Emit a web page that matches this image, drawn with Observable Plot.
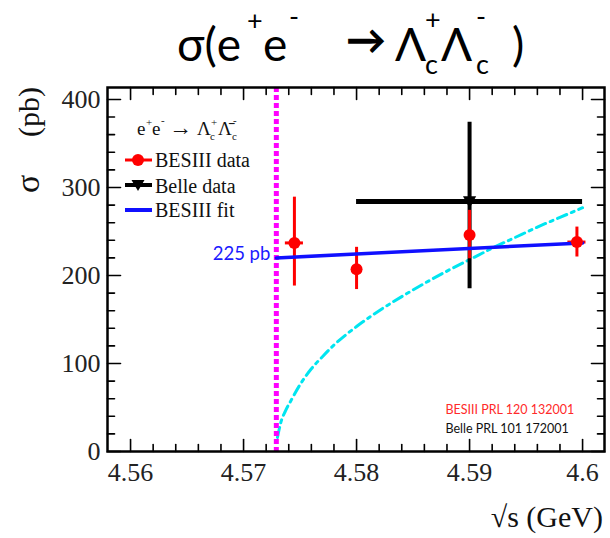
<!DOCTYPE html>
<html><head><meta charset="utf-8">
<script src="https://cdn.jsdelivr.net/npm/d3@7"></script>
<script src="https://cdn.jsdelivr.net/npm/@observablehq/plot@0.6"></script>
<style>
html,body{margin:0;padding:0;background:#fff}
body{width:610px;height:538px;position:relative;overflow:hidden}
.t{position:absolute;line-height:1;white-space:nowrap;color:#000}
.ti{font-family:Lato,'Open Sans',sans-serif;font-size:46px}
.ts{font-family:Lato,'Open Sans',sans-serif;font-size:27px}
#chart{position:absolute;left:0;top:80px}
.serif{font-family:'Liberation Serif','Times New Roman',serif;color:#111;white-space:nowrap;line-height:1;position:absolute}
#ylab{left:28px;top:140px;font-size:30px;transform:translate(-50%,-50%) rotate(-90deg);word-spacing:30px}
#xlab{right:7px;top:502px;font-size:30px}
.leg{font-size:20px}
.lm{font-size:19px}
.lsm{font-size:11px}
#legsw{position:absolute;left:118px;top:145px}
</style>
</head><body>
<div class="t ti" style="left:177px;top:21px">σ(e</div>
<div class="t ts" style="left:247px;top:6px">+</div>
<div class="t ti" style="left:263px;top:21px">e</div>
<div class="t ts" style="left:289px;top:2px">-</div>
<div class="t ti" style="left:346px;top:19px;font-weight:900;font-size:40px">→</div>
<div class="t ti" style="left:395px;top:21px">Λ</div>
<div class="t ts" style="left:425px;top:5px">+</div>
<div class="t ts" style="left:425px;top:50px">c</div>
<div class="t ti" style="left:441px;top:21px">Λ</div>
<div class="t ts" style="left:476px;top:2px">-</div>
<div class="t ts" style="left:476px;top:50px">c</div>
<div class="t ti" style="left:512px;top:21px">)</div>
<div id="chart"></div>
<div id="ylab" class="serif"><span style="font-size:34px">σ</span> (pb)</div>
<div id="xlab" class="serif">√s (GeV)</div>
<div class="serif lm" style="left:137px;top:119px">e</div>
<div class="serif lsm" style="left:146px;top:117px">+</div>
<div class="serif lm" style="left:152px;top:119px">e</div>
<div class="serif lsm" style="left:161px;top:115px">-</div>
<div class="serif" style="left:169px;top:116px;font-size:23px">→</div>
<div class="serif lm" style="left:197px;top:119px">Λ</div>
<div class="serif lsm" style="left:211px;top:117px">+</div>
<div class="serif lsm" style="left:210px;top:131px">c</div>
<div class="serif lm" style="left:218px;top:119px">Λ̄</div>
<div class="serif lsm" style="left:233px;top:115px">-</div>
<div class="serif lsm" style="left:232px;top:131px">c</div>
<div class="serif leg" style="left:155px;top:150px">BESIII data</div>
<div class="serif leg" style="left:155px;top:176px">Belle data</div>
<div class="serif leg" style="left:155px;top:200px">BESIII fit</div>
<svg id="legsw" width="40" height="75" viewBox="118 145 40 75">
  <line x1="125" x2="152" y1="160" y2="160" stroke="#ff0000" stroke-width="3"/>
  <circle cx="138" cy="160" r="6" fill="#ff0000"/>
  <line x1="125" x2="152" y1="185" y2="185" stroke="#000" stroke-width="4"/>
  <path d="M131.5,180 L144.5,180 L138,191 Z" fill="#000"/>
  <line x1="125" x2="152" y1="210" y2="210" stroke="#1010ff" stroke-width="4"/>
</svg>
<script>
// ---- data ----
const besX = [4.5745, 4.5800, 4.5900, 4.5995];
const besY = [237, 207, 246, 238];
const besLo = [188, 184, 219, 221];
const besHi = [289, 232, 274, 255];
const besXerr = [0.0008, 0, 0, 0.0008];

const belleX = [4.59];
const belleY = [284];
const belleLo = [185];
const belleHi = [374];
const belleXlo = [4.58];
const belleXhi = [4.60];

const fitX = [4.5729, 4.6000];
const fitY = [220, 237];

const bornX = [4.5730, 4.5733, 4.5737, 4.5742, 4.5750, 4.5760, 4.5770, 4.5780, 4.5790, 4.5800, 4.5820, 4.5840, 4.5860, 4.5880, 4.5900, 4.5920, 4.5940, 4.5960, 4.5980, 4.6000];
const bornY = [16, 33, 46, 58, 76, 94, 108, 121, 132, 142, 160, 176, 191, 205, 218, 231, 243, 255, 266, 277];

const thresholdX = [4.5729];
const fitLabel = "225 pb";
const refLines = ["BESIII PRL 120 132001", "Belle PRL 101 172001"];

const xTicks = [4.56, 4.57, 4.58, 4.59, 4.60];
const xTickLabels = ["4.56", "4.57", "4.58", "4.59", "4.6"];
const xMinor = [4.562, 4.564, 4.566, 4.568, 4.572, 4.574, 4.576, 4.578, 4.582, 4.584, 4.586, 4.588, 4.592, 4.594, 4.596, 4.598];
const yTicks = [0, 100, 200, 300, 400];
const yTickLabels = ["0", "100", "200", "300", "400"];
const yMinor = [20, 40, 60, 80, 120, 140, 160, 180, 220, 240, 260, 280, 320, 340, 360, 380];

// ---- tables ----
const bes = besX.map((x, i) => ({x, y: besY[i], lo: besLo[i], hi: besHi[i], xe: besXerr[i]}));
const belle = belleX.map((x, i) => ({x, y: belleY[i], lo: belleLo[i], hi: belleHi[i], xlo: belleXlo[i], xhi: belleXhi[i]}));
const fit = fitX.map((x, i) => ({x, y: fitY[i]}));
const born = bornX.map((x, i) => ({x, y: bornY[i]}));

const tickShape = {draw(ctx, l) { ctx.moveTo(0, 0); ctx.lineTo(0, -l); }};
const tk = (data, opts) => Plot.vector(data, {shape: tickShape, anchor: "start", stroke: "#000", strokeWidth: 1.6, ...opts});
const triDown = {draw(ctx, size) { const s = Math.sqrt(size); ctx.moveTo(-0.62 * s, -0.5 * s); ctx.lineTo(0.62 * s, -0.5 * s); ctx.lineTo(0, 0.62 * s); ctx.closePath(); }};

const serif = "'Liberation Serif','Times New Roman',serif";

const chart = Plot.plot({
  width: 610, height: 458,
  marginLeft: 107, marginRight: 6, marginTop: 7, marginBottom: 87,
  x: {domain: [4.55796, 4.60194], axis: null},
  y: {domain: [0, 413.6], axis: null},
  style: {background: "transparent", overflow: "visible"},
  marks: [
    Plot.line(born, {x: "x", y: "y", curve: "monotone-x", stroke: "#00e5f0", strokeWidth: 3, strokeDasharray: "10,5,3,5"}),
    Plot.ruleX(thresholdX, {x: d => d, stroke: "#ff00ff", strokeWidth: 5, strokeDasharray: "5,3"}),
    Plot.ruleX(belle, {x: "x", y1: "lo", y2: "hi", stroke: "#000", strokeWidth: 4}),
    Plot.ruleY(belle, {y: "y", x1: "xlo", x2: "xhi", stroke: "#000", strokeWidth: 5}),
    Plot.dot(belle, {x: "x", y: "y", r: 6, symbol: triDown, fill: "#000", stroke: "none"}),
    Plot.ruleX(bes, {x: "x", y1: "lo", y2: "hi", stroke: "#ff0000", strokeWidth: 3}),
    Plot.ruleY(bes.filter(d => d.xe > 0), {y: "y", x1: d => d.x - d.xe, x2: d => d.x + d.xe, stroke: "#ff0000", strokeWidth: 3}),
    Plot.line(fit, {x: "x", y: "y", stroke: "#1010ff", strokeWidth: 3.5}),
    Plot.dot(bes, {x: "x", y: "y", r: 6, fill: "#ff0000", stroke: "none"}),
    Plot.text([fit[0]], {x: "x", y: "y", text: () => fitLabel, textAnchor: "end", dx: -6, dy: -4, fill: "#1a1aff", fontSize: 18.5, fontFamily: "Lato, sans-serif"}),
    Plot.text([refLines[0]], {text: d => d, frameAnchor: "bottom-right", textAnchor: "start", dx: -159, dy: -38, fill: "#ff2a2a", fontSize: 12.5, fontFamily: "Lato, sans-serif"}),
    Plot.text([refLines[1]], {text: d => d, frameAnchor: "bottom-right", textAnchor: "start", dx: -159, dy: -19, fill: "#111", fontSize: 12.5, fontFamily: "Lato, sans-serif"}),
    tk(xTicks, {x: d => d, frameAnchor: "bottom", rotate: 0, length: 12}),
    tk(xMinor, {x: d => d, frameAnchor: "bottom", rotate: 0, length: 7}),
    tk(xTicks, {x: d => d, frameAnchor: "top", rotate: 180, length: 12}),
    tk(xMinor, {x: d => d, frameAnchor: "top", rotate: 180, length: 7}),
    tk(yTicks, {y: d => d, frameAnchor: "left", rotate: 90, length: 13}),
    tk(yMinor, {y: d => d, frameAnchor: "left", rotate: 90, length: 7}),
    tk(yTicks, {y: d => d, frameAnchor: "right", rotate: -90, length: 13}),
    tk(yMinor, {y: d => d, frameAnchor: "right", rotate: -90, length: 7}),
    Plot.axisX(xTicks, {anchor: "bottom", tickSize: 0, tickPadding: 11, tickFormat: d => xTickLabels[xTicks.indexOf(d)], fontSize: 26, fontFamily: serif, fill: "#222", label: null}),
    Plot.axisY(yTicks, {anchor: "left", tickSize: 0, tickPadding: 7, tickFormat: d => yTickLabels[yTicks.indexOf(d)], fontSize: 26, fontFamily: serif, fill: "#222", label: null}),
    Plot.frame({stroke: "#000", strokeWidth: 2.5})
  ]
});
document.getElementById("chart").appendChild(chart);
</script>
</body></html>
